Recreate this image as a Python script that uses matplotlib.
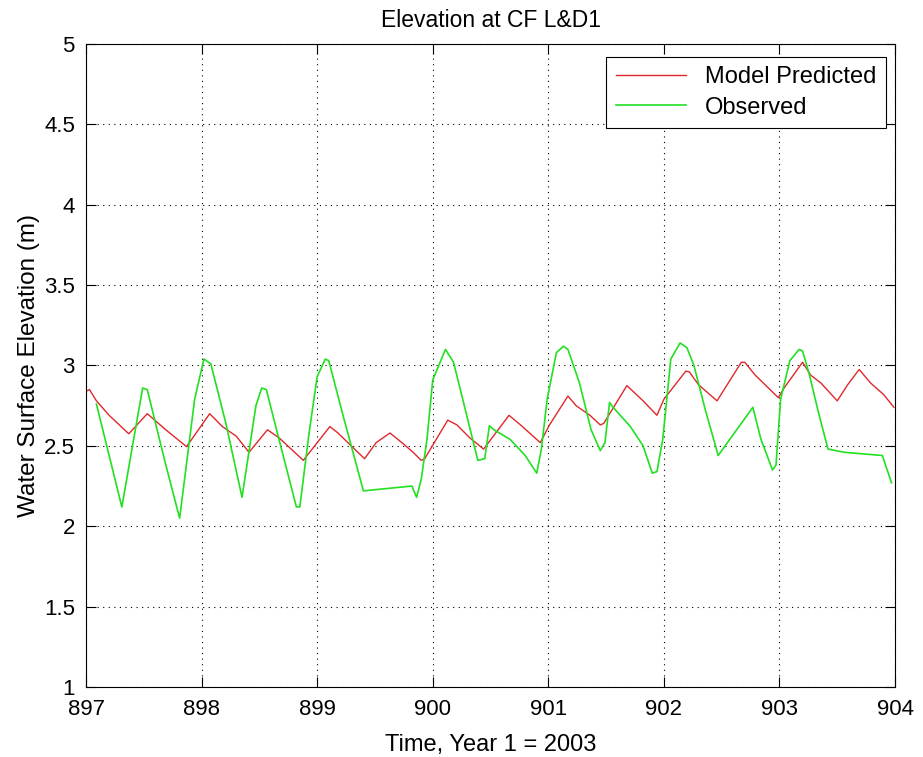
import matplotlib
matplotlib.use('Agg')
import matplotlib.pyplot as plt
from matplotlib.ticker import FuncFormatter

plt.rcParams['font.family'] = ['Liberation Sans', 'DejaVu Sans']

# model predicted (red)
model_t = [897.00, 897.03, 897.09, 897.20, 897.37, 897.53, 897.69, 897.87, 898.07,
           898.18, 898.30, 898.41, 898.57, 898.67, 898.88, 899.11, 899.18, 899.28,
           899.41, 899.51, 899.63, 899.75, 899.83, 899.90, 899.93, 900.13, 900.21,
           900.32, 900.44, 900.66, 900.76, 900.93, 901.01, 901.17, 901.24, 901.36,
           901.45, 901.48, 901.68, 901.82, 901.94, 902.00, 902.19, 902.22, 902.30,
           902.46, 902.67, 902.70, 902.79, 902.99, 903.04, 903.20, 903.27, 903.36,
           903.50, 903.59, 903.69, 903.79, 903.90, 903.99]
model_z = [2.84, 2.85, 2.78, 2.69, 2.575, 2.70, 2.60, 2.495, 2.70,
           2.62, 2.56, 2.46, 2.60, 2.55, 2.41, 2.62, 2.58, 2.51,
           2.42, 2.52, 2.58, 2.51, 2.46, 2.41, 2.42, 2.66, 2.63,
           2.55, 2.48, 2.69, 2.63, 2.52, 2.63, 2.81, 2.75, 2.69,
           2.63, 2.64, 2.875, 2.78, 2.69, 2.79, 2.965, 2.96, 2.88,
           2.78, 3.02, 3.02, 2.94, 2.80, 2.86, 3.02, 2.94, 2.89,
           2.78, 2.88, 2.975, 2.89, 2.82, 2.74]

# observed (green)
obs_t = [897.09, 897.31, 897.49, 897.53, 897.68, 897.81, 897.94, 898.02, 898.08,
         898.21, 898.35, 898.47, 898.52, 898.56, 898.67, 898.82, 898.85, 898.93,
         899.00, 899.07, 899.10, 899.22, 899.40, 899.54, 899.82, 899.86, 899.90,
         899.95, 900.00, 900.11, 900.18, 900.28, 900.39, 900.45, 900.49, 900.53,
         900.67, 900.80, 900.90, 900.94, 900.99, 901.07, 901.13, 901.17, 901.27,
         901.37, 901.45, 901.49, 901.53, 901.56, 901.71, 901.82, 901.90, 901.94,
         901.99, 902.06, 902.14, 902.20, 902.26, 902.36, 902.47, 902.61, 902.77,
         902.84, 902.94, 902.97, 903.01, 903.09, 903.17, 903.20, 903.26, 903.34,
         903.42, 903.56, 903.89, 903.97]
obs_z = [2.76, 2.12, 2.86, 2.85, 2.41, 2.05, 2.79, 3.04, 3.01,
         2.64, 2.18, 2.75, 2.86, 2.85, 2.54, 2.12, 2.12, 2.58,
         2.93, 3.04, 3.03, 2.70, 2.22, 2.23, 2.25, 2.18, 2.29,
         2.54, 2.91, 3.10, 3.02, 2.73, 2.41, 2.42, 2.625, 2.60,
         2.54, 2.44, 2.33, 2.48, 2.79, 3.08, 3.12, 3.10, 2.89,
         2.60, 2.47, 2.52, 2.77, 2.74, 2.62, 2.50, 2.33, 2.34,
         2.54, 3.04, 3.14, 3.11, 3.00, 2.72, 2.44, 2.58, 2.74,
         2.54, 2.35, 2.38, 2.79, 3.03, 3.10, 3.09, 2.94, 2.70,
         2.48, 2.46, 2.44, 2.27]

xticks = [897, 898, 899, 900, 901, 902, 903, 904]
yticks = [1, 1.5, 2, 2.5, 3, 3.5, 4, 4.5, 5]

fig = plt.figure(figsize=(9.23, 7.57), dpi=100)
ax = fig.add_axes([0.0932, 0.0925, 0.8765, 0.8494])

ax.plot(model_t, model_z, color='#e0282c', lw=1.0, label='Model Predicted')
ax.plot(obs_t, obs_z, color='#22e022', lw=1.2, label='Observed')

ax.set_xlim(897, 904)
ax.set_ylim(1, 5)
ax.set_xticks(xticks)
ax.set_yticks(yticks)
ax.yaxis.set_major_formatter(FuncFormatter(lambda v, p: '%g' % v))
ax.tick_params(direction='in', length=7, labelsize=16, top=True, right=True)
ax.tick_params(axis='x', pad=9)
ax.tick_params(axis='y', pad=8)
ax.grid(True, color='black', linestyle=(0, (1, 4)), linewidth=0.8)

ax.set_title('Elevation at CF L&D1', fontsize=16.5, pad=12)
ax.set_xlabel('Time, Year 1 = 2003', fontsize=17, labelpad=10)
ax.set_ylabel('Water Surface Elevation (m)', fontsize=17.5, labelpad=3)

leg = ax.legend(loc='upper right', bbox_to_anchor=(0.989, 0.980), borderaxespad=0,
                fontsize=17, fancybox=False, framealpha=1, edgecolor='black',
                handlelength=3.0, borderpad=0.4, labelspacing=0.35)
leg.get_frame().set_linewidth(0.8)

fig.savefig('out.png', dpi=100)
